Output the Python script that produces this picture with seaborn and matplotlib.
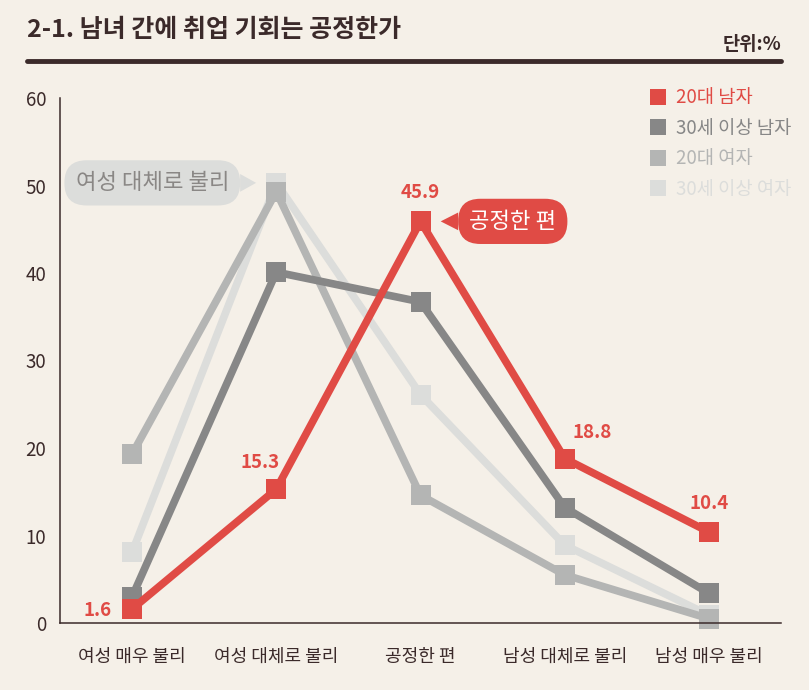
import seaborn as sns
import pandas as pd
import matplotlib.pyplot as plt
from matplotlib.lines import Line2D

# data
categories = ['여성 매우 불리', '여성 대체로 불리', '공정한 편', '남성 대체로 불리', '남성 매우 불리']
men_20s = [1.6, 15.3, 45.9, 18.8, 10.4]
men_30plus = [3.0, 40.1, 36.7, 13.2, 3.4]
women_20s = [19.3, 49.3, 14.6, 5.5, 0.5]
women_30plus = [8.1, 50.3, 26.1, 8.9, 0.9]
groups = ['20대 남자', '30세 이상 남자', '20대 여자', '30세 이상 여자']
series = [men_20s, men_30plus, women_20s, women_30plus]
colors = ['#e04b45', '#878787', '#b4b5b4', '#dcdddb']

bg = '#f5f0e8'
ink = '#3b2a2a'

rows = []
for g, vals in zip(groups, series):
    for i, v in enumerate(vals):
        rows.append({'group': g, 'pos': i, 'value': v})
df = pd.DataFrame(rows)

#set the theme
sns.set_theme(style='white')
plt.rcParams['font.family'] = ['Noto Sans CJK KR', 'DejaVu Sans']

fig = plt.figure(figsize=(8.09, 6.90), dpi=100, facecolor=bg)
ax = fig.add_axes([60/809, (690-623)/690, (781-60)/809, (623-98)/690])
ax.set_facecolor(bg)

#draw lines, lightest first so red sits on top
order = groups[::-1]
palette = dict(zip(groups, colors))
sns.lineplot(data=df, x='pos', y='value', hue='group', hue_order=order,
             palette=palette, style='group', markers={g: 's' for g in groups},
             dashes=False, sort=False, legend=False, linewidth=5.5,
             markersize=15, markeredgewidth=0, clip_on=False, ax=ax)

ax.set_xlim(-0.5, 4.5)
ax.set_ylim(0, 60)
ax.set_xlabel('')
ax.set_ylabel('')
ax.set_yticks(range(0, 61, 10))
ax.set_xticks(range(len(categories)))
ax.set_xticklabels(categories)
ax.set_xticks([i + 0.5 for i in range(len(categories))], minor=True)
ax.tick_params(axis='x', which='major', length=0, pad=18, labelsize=13, labelcolor=ink)
ax.tick_params(axis='x', which='minor', length=12, width=1, color=ink, direction='out')
ax.tick_params(axis='y', length=13, width=1, color=ink, direction='in', pad=10,
               labelsize=13.5, labelcolor=ink)
for s in ['top', 'right']:
    ax.spines[s].set_visible(False)
for s in ['left', 'bottom']:
    ax.spines[s].set_color(ink)
    ax.spines[s].set_linewidth(1.1)

#value labels on the red line
offsets = [(-15, -1, 'right', 'center'), (-12, 12, 'center', 'bottom'),
           (0, 14, 'center', 'bottom'), (20, 12, 'center', 'bottom'),
           (0, 14, 'center', 'bottom')]
for i, v in enumerate(men_20s):
    dx, dy, ha, va = offsets[i]
    ax.annotate(f'{v}', (i, v), xytext=(dx, dy), textcoords='offset points',
                ha=ha, va=va, color=colors[0], fontsize=13.5, fontweight='bold')

#speech bubbles
ax.annotate('여성 대체로 불리', (0.86, 50.3), xytext=(0.14, 50.3),
            ha='center', va='center', color='#8a8785', fontsize=16,
            bbox=dict(boxstyle='round,pad=0.5,rounding_size=1.0', fc='#dcdddb', ec='none'),
            arrowprops=dict(arrowstyle='wedge,tail_width=0.8', fc='#dcdddb', ec='none',
                            shrinkA=0, shrinkB=0))
ax.annotate('공정한 편', (2.14, 45.9), xytext=(2.64, 45.9),
            ha='center', va='center', color='white', fontsize=16,
            bbox=dict(boxstyle='round,pad=0.5,rounding_size=1.0', fc=colors[0], ec='none'),
            arrowprops=dict(arrowstyle='wedge,tail_width=0.8', fc=colors[0], ec='none',
                            shrinkA=0, shrinkB=0))

#legend
handles = [Line2D([], [], marker='s', linestyle='none', color=c, markersize=11,
                  markeredgewidth=0) for c in colors]
ax.legend(handles, groups, loc='upper left', bbox_to_anchor=(640/809, 1 - 78/690),
          bbox_transform=fig.transFigure, frameon=False, fontsize=13.5,
          labelcolor=colors, handlelength=0.9, handletextpad=0.5,
          labelspacing=0.5, borderpad=0)

#title and rule
fig.text(27/809, 1 - 30/690, '2-1. 남녀 간에 취업 기회는 공정한가', ha='left', va='center',
         fontsize=18, fontweight='bold', color=ink)
fig.text(781/809, 1 - 45/690, '단위:%', ha='right', va='center',
         fontsize=13.5, fontweight='bold', color=ink)
fig.add_artist(Line2D([27/809, 781/809], [1 - 61/690, 1 - 61/690],
                      transform=fig.transFigure, color=ink, linewidth=3.5))

fig.savefig('out.png', dpi=100, facecolor=bg)
